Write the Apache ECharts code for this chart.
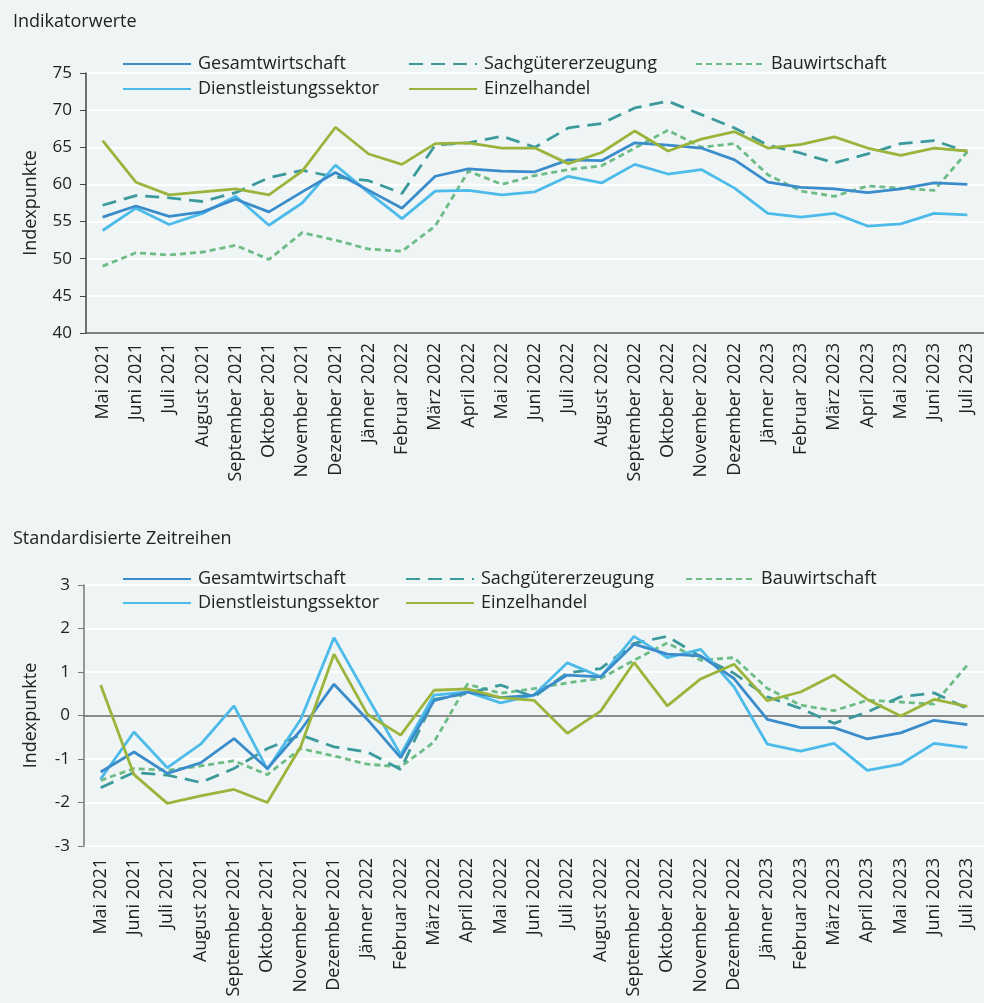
<!DOCTYPE html>
<html>
<head>
<meta charset="utf-8">
<script src="https://cdn.jsdelivr.net/npm/echarts@6/dist/echarts.min.js"></script>
<style>
  html, body { margin: 0; padding: 0; background: #eff5f5; }
  #chart { width: 984px; height: 1003px; }
</style>
</head>
<body>
<div id="chart"></div>
<script>
var months = ['Mai 2021', 'Juni 2021', 'Juli 2021', 'August 2021', 'September 2021', 'Oktober 2021',
  'November 2021', 'Dezember 2021', 'Jänner 2022', 'Februar 2022', 'März 2022', 'April 2022',
  'Mai 2022', 'Juni 2022', 'Juli 2022', 'August 2022', 'September 2022', 'Oktober 2022',
  'November 2022', 'Dezember 2022', 'Jänner 2023', 'Februar 2023', 'März 2023', 'April 2023',
  'Mai 2023', 'Juni 2023', 'Juli 2023'];

// Indikatorwerte
var gesamtIdx = [55.6, 57.1, 55.7, 56.3, 58.0, 56.3, 59.0, 61.6, 59.2, 56.8, 61.1, 62.1, 61.8, 61.7, 63.3, 63.2, 65.6, 65.3, 64.9, 63.3, 60.3, 59.6, 59.4, 58.9, 59.4, 60.2, 60.0];
var sachIdx = [57.2, 58.5, 58.2, 57.7, 58.9, 60.9, 61.9, 61.0, 60.5, 58.8, 65.3, 65.6, 66.5, 65.0, 67.6, 68.2, 70.3, 71.2, 69.4, 67.6, 65.3, 64.2, 62.9, 64.1, 65.5, 65.9, 64.4];
var bauIdx = [49.0, 50.8, 50.5, 50.9, 51.8, 49.9, 53.5, 52.5, 51.3, 51.0, 54.4, 61.8, 60.0, 61.2, 62.0, 62.5, 64.9, 67.3, 65.0, 65.5, 61.3, 59.1, 58.4, 59.8, 59.5, 59.2, 64.4];
var dienstIdx = [53.8, 56.8, 54.6, 56.1, 58.4, 54.5, 57.5, 62.6, 58.9, 55.4, 59.1, 59.2, 58.6, 59.0, 61.1, 60.2, 62.7, 61.4, 62.0, 59.5, 56.1, 55.6, 56.1, 54.4, 54.7, 56.1, 55.9];
var einzelIdx = [65.9, 60.3, 58.6, 59.0, 59.4, 58.6, 61.8, 67.7, 64.1, 62.7, 65.5, 65.6, 64.9, 64.9, 62.8, 64.3, 67.2, 64.5, 66.1, 67.1, 64.9, 65.4, 66.4, 64.9, 63.9, 64.9, 64.5];

// Standardisierte Zeitreihen
var gesamtStd = [-1.30, -0.84, -1.33, -1.09, -0.53, -1.22, -0.34, 0.72, -0.09, -0.97, 0.34, 0.54, 0.41, 0.47, 0.93, 0.89, 1.64, 1.41, 1.37, 0.85, -0.09, -0.28, -0.28, -0.54, -0.40, -0.11, -0.21];
var sachStd = [-1.66, -1.31, -1.37, -1.54, -1.22, -0.76, -0.45, -0.72, -0.84, -1.24, 0.37, 0.51, 0.70, 0.43, 0.98, 1.08, 1.66, 1.82, 1.35, 0.97, 0.43, 0.16, -0.18, 0.08, 0.43, 0.52, 0.16];
var bauStd = [-1.49, -1.22, -1.26, -1.16, -1.04, -1.36, -0.76, -0.93, -1.12, -1.18, -0.61, 0.72, 0.51, 0.62, 0.75, 0.85, 1.27, 1.67, 1.27, 1.33, 0.62, 0.24, 0.11, 0.35, 0.31, 0.26, 1.16];
var dienstStd = [-1.46, -0.38, -1.20, -0.66, 0.22, -1.24, -0.09, 1.79, 0.43, -0.90, 0.47, 0.54, 0.29, 0.47, 1.21, 0.89, 1.82, 1.33, 1.52, 0.66, -0.66, -0.82, -0.64, -1.26, -1.12, -0.64, -0.74];
var einzelStd = [0.70, -1.36, -2.02, -1.85, -1.70, -2.00, -0.72, 1.41, 0.03, -0.45, 0.58, 0.61, 0.41, 0.35, -0.41, 0.10, 1.22, 0.22, 0.84, 1.18, 0.34, 0.54, 0.93, 0.37, -0.01, 0.37, 0.21];

var FONT = '"Open Sans", sans-serif';
var TXT = '#222';

var styles = {
  'Gesamtwirtschaft': { color: '#3a8ccb', type: 'solid' },
  'Sachgütererzeugung': { color: '#3d9a9c', type: [14, 8] },
  'Bauwirtschaft': { color: '#6dbb85', type: [6, 4] },
  'Dienstleistungssektor': { color: '#4dbbea', type: 'solid' },
  'Einzelhandel': { color: '#9ab43c', type: 'solid' }
};

function line(name, data, xi, yi) {
  var s = styles[name];
  return {
    name: name, type: 'line', data: data,
    xAxisIndex: xi, yAxisIndex: yi,
    symbol: 'none', smooth: false,
    lineStyle: { color: s.color, width: 2.8, type: s.type },
    itemStyle: { color: s.color }
  };
}

function legendAt(name, left, top) {
  return {
    data: [name], left: left, top: top, padding: 0,
    itemWidth: 68, itemHeight: 14, itemGap: 0,
    selectedMode: false,
    itemStyle: { opacity: 0, borderWidth: 0 },
    textStyle: { fontFamily: FONT, fontSize: 18, color: TXT, padding: [0, 0, 0, 2] }
  };
}

var yLabel = { fontFamily: FONT, fontSize: 17, color: TXT, margin: 14 };
var xLabel = { fontFamily: FONT, fontSize: 18, color: TXT, rotate: 90, margin: 10, interval: 0 };

var chart = echarts.init(document.getElementById('chart'));
chart.setOption({
  backgroundColor: '#eff5f5',
  animation: false,
  textStyle: { fontFamily: FONT },
  title: [
    { text: 'Indikatorwerte', left: 8, top: 8, textStyle: { fontFamily: FONT, fontSize: 18, fontWeight: 'normal', color: TXT } },
    { text: 'Standardisierte Zeitreihen', left: 8, top: 525, textStyle: { fontFamily: FONT, fontSize: 18, fontWeight: 'normal', color: TXT } }
  ],
  legend: [
    legendAt('Gesamtwirtschaft', 122, 55),
    legendAt('Sachgütererzeugung', 408, 55),
    legendAt('Bauwirtschaft', 695, 55),
    legendAt('Dienstleistungssektor', 122, 80),
    legendAt('Einzelhandel', 408, 80),
    legendAt('Gesamtwirtschaft', 122, 570),
    legendAt('Sachgütererzeugung', 405, 570),
    legendAt('Bauwirtschaft', 685, 570),
    legendAt('Dienstleistungssektor', 122, 594),
    legendAt('Einzelhandel', 405, 594)
  ],
  grid: [
    { left: 86, top: 73, width: 906, height: 260 },
    { left: 84, top: 585, width: 907, height: 261 }
  ],
  xAxis: [
    {
      gridIndex: 0, type: 'category', data: months, position: 'bottom',
      axisLine: { lineStyle: { color: '#5a5a5a', width: 1.5 } },
      axisTick: { length: 6, interval: 0, lineStyle: { color: '#5a5a5a' } },
      axisLabel: xLabel, splitLine: { show: false }
    },
    {
      gridIndex: 1, type: 'category', data: months, position: 'bottom',
      axisLine: { onZero: true, onZeroAxisIndex: 1, lineStyle: { color: '#666', width: 1.5 } },
      axisTick: { length: 5, interval: 0, lineStyle: { color: '#555' } },
      axisLabel: { show: false }, splitLine: { show: false }
    },
    {
      gridIndex: 1, type: 'category', data: months, position: 'bottom',
      axisLine: { show: false, onZero: true, onZeroAxisIndex: 1 },
      axisTick: { length: 5, inside: true, interval: 0, lineStyle: { color: '#555' } },
      axisLabel: { show: false }, splitLine: { show: false }
    },
    {
      gridIndex: 1, type: 'category', data: months, position: 'bottom',
      axisLine: { show: false, onZero: false },
      axisTick: { show: false },
      axisLabel: Object.assign({}, xLabel, { margin: 12 }), splitLine: { show: false }
    }
  ],
  yAxis: [
    {
      gridIndex: 0, type: 'value', min: 40, max: 75, interval: 5,
      name: 'Indexpunkte', nameLocation: 'middle', nameGap: 46,
      nameTextStyle: { fontFamily: FONT, fontSize: 18, color: TXT },
      axisLine: { show: true, lineStyle: { color: '#444', width: 1.5 } },
      axisTick: { show: true, length: 6, lineStyle: { color: '#444' } },
      axisLabel: yLabel,
      splitLine: { lineStyle: { color: '#ffffff', width: 2 } }
    },
    {
      gridIndex: 1, type: 'value', min: -3, max: 3, interval: 1,
      name: 'Indexpunkte', nameLocation: 'middle', nameGap: 44,
      nameTextStyle: { fontFamily: FONT, fontSize: 18, color: TXT },
      axisLine: { show: true, lineStyle: { color: '#7a7a7a', width: 1.5 } },
      axisTick: { show: true, length: 6, lineStyle: { color: '#7a7a7a' } },
      axisLabel: yLabel,
      splitLine: { lineStyle: { color: '#ffffff', width: 2 } }
    }
  ],
  series: [
    line('Bauwirtschaft', bauIdx, 0, 0),
    line('Sachgütererzeugung', sachIdx, 0, 0),
    line('Dienstleistungssektor', dienstIdx, 0, 0),
    line('Gesamtwirtschaft', gesamtIdx, 0, 0),
    line('Einzelhandel', einzelIdx, 0, 0),
    line('Bauwirtschaft', bauStd, 3, 1),
    line('Sachgütererzeugung', sachStd, 3, 1),
    line('Dienstleistungssektor', dienstStd, 3, 1),
    line('Gesamtwirtschaft', gesamtStd, 3, 1),
    line('Einzelhandel', einzelStd, 3, 1)
  ]
});
</script>
</body>
</html>
